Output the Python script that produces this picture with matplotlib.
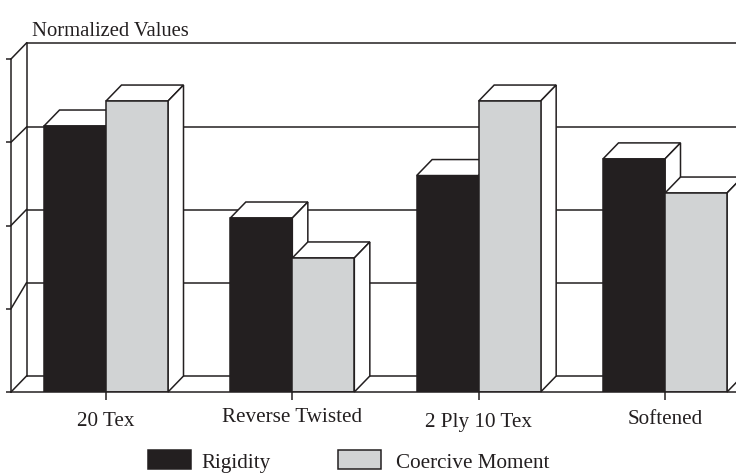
import matplotlib.pyplot as plt
from matplotlib.patches import Patch, Polygon

plt.rcParams["font.family"] = ["Liberation Serif", "DejaVu Serif"]

W, H = 736, 473
DARK = "#231f20"
GREY = "#d1d3d4"
LW = 1.1

categories = ["20 Tex", "Reverse Twisted", "2 Ply 10 Tex", "Softened"]
rigidity = [3.195, 2.09, 2.60, 2.80]
coercive = [3.495, 1.61, 3.495, 2.39]
y_ticks = [0, 1, 2, 3, 4]
# the back wall lines are not evenly spaced in the original
wall_levels = [0, 1.12, 2, 2.99, 4]

fig = plt.figure(figsize=(W / 100, H / 100), dpi=100)
left, right, bottom, top = 11, 736, 392, 59
ax = fig.add_axes([left / W, 1 - bottom / H, (right - left) / W, (bottom - top) / H])

px_cat = 186.33
px_val = (bottom - top) / 4
ax.set_xlim(-(106 - left) / px_cat, 3 + (right - 665) / px_cat)
ax.set_ylim(0, 4)

bar_w = 62 / px_cat
dx = 15.5 / px_cat
dy = 16 / px_val
x0 = ax.get_xlim()[0]
x1 = ax.get_xlim()[1]

# back wall and the lines joining it to the front axis
ax.plot([x0 + dx, x0 + dx], [dy, 4 + dy], color=DARK, lw=LW, clip_on=False, zorder=1)
for tick, level in zip(y_ticks, wall_levels):
    ax.plot([x0 + dx, x1], [level + dy] * 2, color=DARK, lw=LW, clip_on=False, zorder=1)
    ax.plot([x0, x0 + dx], [tick, level + dy], color=DARK, lw=LW, clip_on=False, zorder=1)


def draw_series(values, offset, colour, z):
    xs = [i + offset for i in range(len(values))]
    ax.bar(xs, values, width=bar_w, align="edge", color=colour, edgecolor=DARK, lw=LW, zorder=z + 1)
    for x, v in zip(xs, values):
        ax.add_patch(Polygon([(x, v), (x + dx, v + dy), (x + bar_w + dx, v + dy), (x + bar_w, v)],
                             facecolor="white", edgecolor=DARK, lw=LW, zorder=z, clip_on=False))
        ax.add_patch(Polygon([(x + bar_w, 0), (x + bar_w + dx, dy), (x + bar_w + dx, v + dy), (x + bar_w, v)],
                             facecolor="white", edgecolor=DARK, lw=LW, zorder=z, clip_on=False))


draw_series(rigidity, -bar_w, DARK, 2)
draw_series(coercive, 0, GREY, 4)

for side in ["top", "right"]:
    ax.spines[side].set_visible(False)
for side in ["left", "bottom"]:
    ax.spines[side].set_color(DARK)
    ax.spines[side].set_linewidth(LW)
    ax.spines[side].set_zorder(7)

ax.set_yticks(y_ticks)
ax.set_yticklabels([])
ax.tick_params(axis="y", length=3.6, width=LW, color=DARK)
ax.set_xticks(range(len(categories)))
ax.set_xticklabels(categories, fontsize=15.2, color=DARK)
ax.tick_params(axis="x", length=5.8, width=LW, color=DARK)
# category labels sit at slightly different heights
for tick, pad in zip(ax.xaxis.get_major_ticks(), [8.5, 5.5, 9.5, 7.5]):
    tick.set_pad(pad)

fig.text(32 / W, 1 - 31 / H, "Normalized Values", fontsize=14.9, color=DARK, va="center", ha="left")

handles = [Patch(facecolor=DARK, edgecolor=DARK, lw=LW), Patch(facecolor=GREY, edgecolor=DARK, lw=LW)]
leg = fig.legend(handles, ["Rigidity", "Coercive Moment"], ncol=2, frameon=False, fontsize=15.2,
                 loc="lower left", bbox_to_anchor=(148 / W, 1 - 472 / H), borderpad=0, borderaxespad=0,
                 handlelength=2.04, handleheight=1.0, handletextpad=0.47, columnspacing=3.2,
                 labelcolor=DARK)
# nudge the legend labels to where they sit in the original
for text, shift in zip(leg.get_texts(), [0, 5]):
    text.set_position((shift, -1))

fig.savefig("out.png", dpi=100)
